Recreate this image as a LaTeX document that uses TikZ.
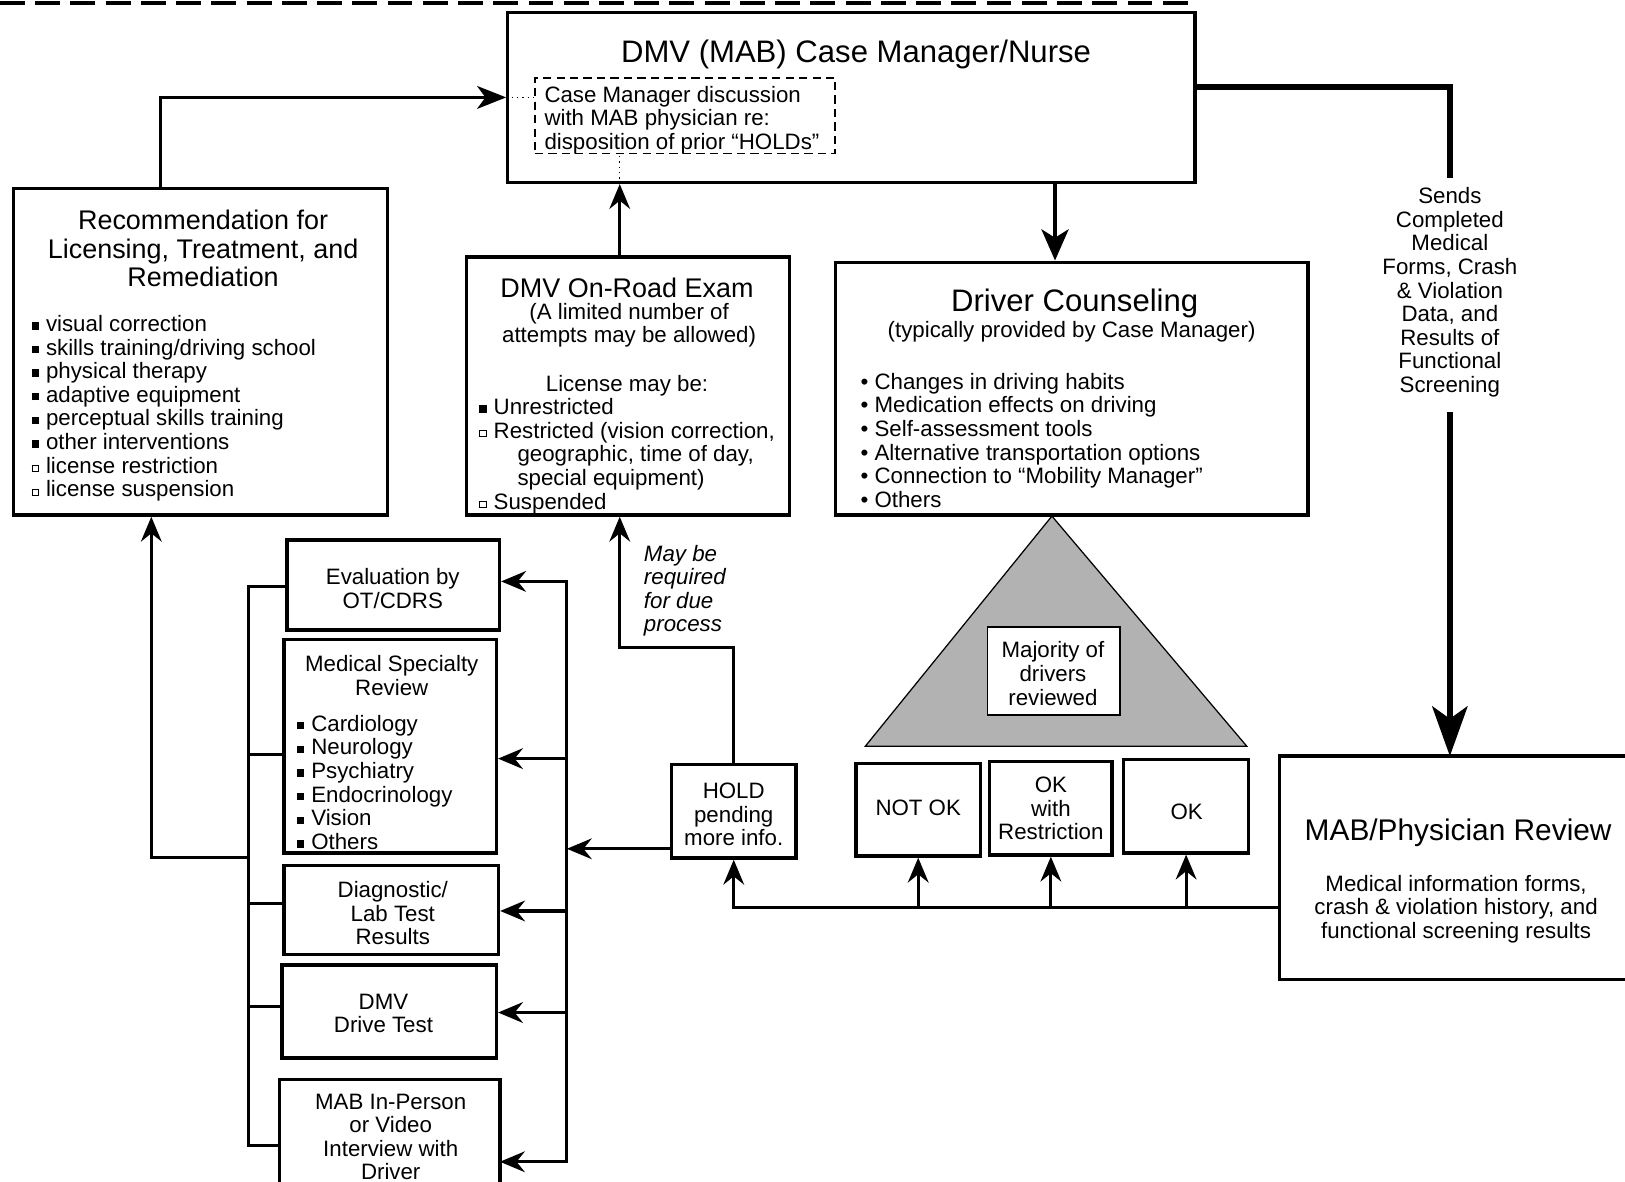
\documentclass[tikz,border=0pt]{standalone}
\usepackage{fontspec}
\setmainfont{Liberation Sans}
\usetikzlibrary{arrows.meta,fit,calc}
\newcommand\szS{\fontsize{10.75pt}{11.4pt}\selectfont}
\newcommand\szM{\fontsize{13pt}{13.75pt}\selectfont}
\newcommand\szL{\fontsize{15pt}{17pt}\selectfont}
\newcommand\szX{\fontsize{14.4pt}{16pt}\selectfont}
\newcommand\sqf{\rule[0.9pt]{3.6pt}{3.6pt}\hspace{3.4pt}}
\newcommand\sqh{\raisebox{0.9pt}{\fboxsep0pt\fboxrule0.5pt\fbox{\rule{0pt}{2.6pt}\rule{2.6pt}{0pt}}}\hspace{3.4pt}}
\begin{document}
\begin{tikzpicture}[x=0.5pt,y=-0.5pt,
  box/.style={draw, line width=1.6pt, inner sep=0pt},
  ghost/.style={draw=none, inner sep=0pt},
  txt/.style={inner sep=0pt, align=center, font=\szS},
  ltxt/.style={inner sep=0pt, align=left, anchor=west, font=\szS},
  ln/.style={line width=1.5pt, line cap=rect},
  conn/.style={line width=1.5pt, -{Stealth[length=12pt,width=10pt,inset=4pt]}},
  dots/.style={line width=0.6pt, dotted}]
\fill[white] (0,0) rectangle (1568,1140);
\useasboundingbox (0,0) rectangle (1568,1140);
% top dashed rule
\draw[line width=2pt, dash pattern=on 12pt off 5pt] (0,3) -- (1155,3);

% ---- boxes ----
\node[box, fit={(490,12) (1153,176)}] (dmv) {};
\node[draw, line width=0.8pt, dash pattern=on 4pt off 2.5pt, inner sep=0pt, fit={(516,75) (806,148)}] (inner) {};
\node[box, fit={(13,182) (374,497)}] (rec) {};
\node[box, fit={(450,248) (762,497)}] (onroad) {};
\node[box, fit={(806,253) (1262,497)}] (dc) {};
\node[box, fit={(277,521) (482,608)}] (eval) {};
\node[box, fit={(274,617) (479,823)}] (med) {};
\node[box, fit={(274,835) (481,921)}] (diag) {};
\node[box, fit={(272,931) (479,1021)}] (drive) {};
\node[ghost, fit={(270,1042) (482,1140)}] (mabi) {};
\draw[line width=1.6pt] (mabi.south west) -- (mabi.north west) -- (mabi.north east) -- (mabi.south east);
\node[box, fit={(648,738) (768,828)}] (hold) {};
\node[box, fit={(826,737) (946,826)}] (notok) {};
\node[box, fit={(955,735) (1073,825)}] (okr) {};
\node[box, fit={(1084,733) (1205,823)}] (ok) {};
\node[ghost, fit={(1235,730) (1568,945)}] (mab) {};
\draw[line width=1.6pt] (mab.north east) -- (mab.north west) -- (mab.south west) -- (mab.south east);

% triangle
\coordinate (tA) at (1015,498);
\coordinate (tB) at (835,720);
\coordinate (tC) at (1203,720);
\filldraw[fill=black!30, draw=black, line width=0.6pt] (tA) -- (tB) -- (tC) -- cycle;
\node[draw, line width=0.8pt, fill=white, inner sep=0pt, fit={(953,605) (1081,690)}] (maj) {};

% ---- texts ----
\node[inner sep=0pt, font=\szL] (dmvt) at (826,53) {DMV (MAB) Case Manager/Nurse};
\node[ltxt] (innert) at (525,116) {Case Manager discussion\\with MAB physician re:\\disposition of prior “HOLDs”};

\node[txt, font=\szM] (rect) at (196,240) {Recommendation for\\Licensing, Treatment, and\\Remediation};
\node[ltxt] (recl) at (30,394) {\sqf visual correction\\\sqf skills training/driving school\\\sqf physical therapy\\\sqf adaptive equipment\\\sqf perceptual skills training\\\sqf other interventions\\\sqh license restriction\\\sqh license suspension};

\node[inner sep=0pt, font=\szM] (ort) at (605,278) {DMV On-Road Exam};
\node[txt] (ors) at (607,314) {(A limited number of\\attempts may be allowed)};
\node[inner sep=0pt, font=\szS] (orlic) at (605,372) {License may be:};
\node[ltxt] (orl) at (462,440) {\sqf Unrestricted\\\sqh Restricted (vision correction,\\\hspace*{18.5pt}geographic, time of day,\\\hspace*{18.5pt}special equipment)\\\sqh Suspended};

\node[inner sep=0pt, font=\szL] (dct) at (1037,293) {Driver Counseling};
\node[inner sep=0pt, font=\szS] (dcs) at (1034,320) {(typically provided by Case Manager)};
\node[ltxt] (dcl) at (830,425) {• Changes in driving habits\\• Medication effects on driving\\• Self-assessment tools\\• Alternative transportation options\\• Connection to “Mobility Manager”\\• Others};

\node[txt] (sends) at (1399,282) {Sends\\Completed\\Medical\\Forms, Crash\\\& Violation\\Data, and\\Results of\\Functional\\Screening};

\node[txt] (majt) at (1016,650) {Majority of\\drivers\\reviewed};
\node[inner sep=0pt, font=\szS] (notokt) at (886,779) {NOT OK};
\node[txt] (okrt) at (1014,780) {OK\\with\\Restriction};
\node[inner sep=0pt, font=\szS] (okt) at (1145,783) {OK};

\node[inner sep=0pt, font=\szX] (mabt) at (1407,804) {MAB/Physician Review};
\node[txt] (mabs) at (1405,877) {Medical information forms,\\crash \& violation history, and\\functional screening results};

\node[txt] (holdt) at (708,786) {HOLD\\pending\\more info.};
\node[ltxt, font=\szS\itshape] (maybe) at (621,570) {May be\\required\\for due\\process};

\node[txt] (evalt) at (379,568) {Evaluation by\\OT/CDRS};
\node[txt] (medt) at (378,652) {Medical Specialty\\Review};
\node[ltxt] (medl) at (286,755) {\sqf Cardiology\\\sqf Neurology\\\sqf Psychiatry\\\sqf Endocrinology\\\sqf Vision\\\sqf Others};
\node[txt] (diagt) at (379,881) {Diagnostic/\\Lab Test\\Results};
\node[txt] (drivet) at (370,978) {DMV\\Drive Test};
\node[txt] (mabit) at (377,1097) {MAB In-Person\\or Video\\Interview with\\Driver};

% ---- connectors ----
\coordinate (x155) at (155,0);
\coordinate (x598) at (598,0);
\coordinate (x1018) at (1018,0);
\coordinate (x146) at (146,0);
\coordinate (y84) at (0,84);

\draw[line width=1.5pt, -{Stealth[length=14pt,width=11pt,inset=4pt]}] (x155 |- rec.north) |- (dmv.west);
\draw[dots] (dmv.west) -- (inner.west |- dmv.west);
\draw[conn] (x598 |- onroad.north) -- (x598 |- dmv.south);
\draw[dots] (x598 |- dmv.south) -- (x598 |- inner.south);
\draw[line width=2.2pt, -{Stealth[length=15pt,width=13pt,inset=4pt]}] (x1018 |- dmv.south) -- (x1018 |- dc.north);

\draw[line width=3pt] (dmv.east |- y84) -| ($(sends.north)+(0,-9)$);
\draw[line width=3pt, -{Stealth[length=24pt,width=17pt,inset=6pt]}] ($(sends.south)+(0,14)$) -- (sends.south |- mab.north);

\coordinate (hc) at (598,625);
\draw[conn] (hold.north) |- (hc) -- (x598 |- onroad.south);
\coordinate (jh) at (547,819);
\draw[conn] (hold.west |- jh) -- (jh);

\coordinate (rs1) at (547,561);
\coordinate (rs2) at (547,732);
\coordinate (rs3) at (547,879);
\coordinate (rs4) at (547,977);
\coordinate (rs5) at (547,1121);
\draw[ln] (rs1) -- (rs5);
\draw[conn] (rs1) -- (eval.east |- rs1);
\draw[conn] (rs2) -- (med.east |- rs2);
\draw[conn] (rs3) -- (diag.east |- rs3);
\draw[conn] (rs4) -- (drive.east |- rs4);
\draw[conn] (rs5) -- (mabi.east |- rs5);

\coordinate (ls1) at (240,566);
\coordinate (ls2) at (240,728);
\coordinate (ls3) at (240,872);
\coordinate (ls4) at (240,971);
\coordinate (ls5) at (240,1105);
\coordinate (lj) at (240,827);
\draw[ln] (eval.west |- ls1) -- (ls1) -- (ls5) -- (mabi.west |- ls5);
\draw[ln] (ls2) -- (med.west |- ls2);
\draw[ln] (ls3) -- (diag.west |- ls3);
\draw[ln] (ls4) -- (drive.west |- ls4);
\draw[conn] (lj) -| (x146 |- rec.south);

\coordinate (bl) at (708,876);
\draw[conn] (mab.west |- bl) -- (bl) -- (hold.south);
\draw[conn] (notok.south |- bl) -- (notok.south);
\draw[conn] (okr.south |- bl) -- (okr.south);
\draw[conn] (ok.south |- bl) -- (ok.south);
\end{tikzpicture}
\end{document}
